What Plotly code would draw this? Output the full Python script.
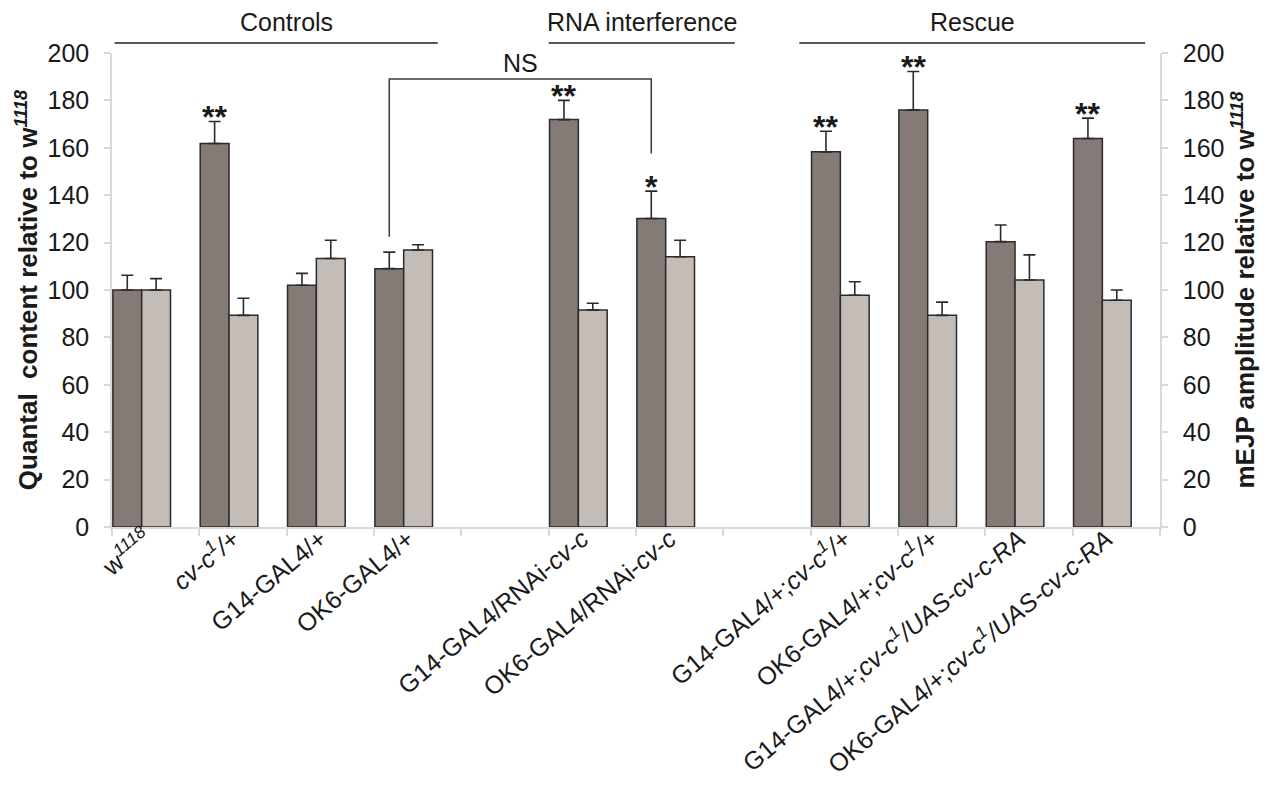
import plotly.graph_objects as go

FONT = "Liberation Sans, Arial, sans-serif"
DARK = "#857b76"
LIGHT = "#c4bcb7"
EDGE = "#2b2b2b"
AXIS = "#d9d9d9"
TXT = "#1a1a1a"

# ---- data ----
categories = [
    "w<sup><i>1118</i></sup>",
    "<i>cv-c<sup>1</sup>/+</i>",
    "G14-GAL4/+",
    "OK6-GAL4/+",
    "",
    "G14-GAL4/RNAi-<i>cv-c</i>",
    "OK6-GAL4/RNAi-<i>cv-c</i>",
    "",
    "G14-GAL4/+;<i>cv-c<sup>1</sup>/+</i>",
    "OK6-GAL4/+;<i>cv-c<sup>1</sup>/+</i>",
    "G14-GAL4/+;<i>cv-c<sup>1</sup>/UAS-cv-c-RA</i>",
    "OK6-GAL4/+;<i>cv-c<sup>1</sup>/UAS-cv-c-RA</i>",
]
quantal = [100, 161.8, 102, 109, None, 171.9, 130.2, None, 158.3, 176, 120.4, 163.9]
quantal_err = [6.2, 9.3, 5, 7, 0, 8.1, 11.5, 0, 8.7, 16.2, 7, 8.6]
mejp = [100, 89.3, 113.3, 116.9, None, 91.6, 114, None, 97.8, 89.3, 104.2, 95.7]
mejp_err = [4.8, 7.2, 7.7, 2.2, 0, 2.8, 7, 0, 5.7, 5.6, 10.6, 4.3]
stars = ["", "**", "", "", "", "**", "*", "", "**", "**", "", "**"]

groups = ["Controls", "RNA interference", "Rescue"]
group_start = [-0.47, 4.5, 7.37]
group_end = [3.23, 6.63, 11.33]
group_label_x = [1.5, 5.57, 9.35]

ns_pair = [3, 6]
ns_y = [122.5, 189, 157.6]
ns_label_y = 195.7

y_ticks = list(range(0, 201, 20))

# ---- geometry of bars inside each category slot ----
idx = list(range(len(categories)))
BW = 0.33
DARK_OFF = -0.49
LIGHT_OFF = DARK_OFF + BW
dark_center = DARK_OFF + BW / 2

fig = go.Figure()

fig.add_trace(go.Bar(
    x=idx, y=quantal, offset=DARK_OFF, width=BW,
    marker=dict(color=DARK, line=dict(color=EDGE, width=1.5)),
    error_y=dict(type="data", array=quantal_err, arrayminus=[0] * len(idx),
                 symmetric=False, color=EDGE, thickness=1.6, width=6),
    name="Quantal content", yaxis="y", hoverinfo="skip",
))
fig.add_trace(go.Bar(
    x=idx, y=mejp, offset=LIGHT_OFF, width=BW,
    marker=dict(color=LIGHT, line=dict(color=EDGE, width=1.5)),
    error_y=dict(type="data", array=mejp_err, arrayminus=[0] * len(idx),
                 symmetric=False, color=EDGE, thickness=1.6, width=6),
    name="mEJP amplitude", yaxis="y2", hoverinfo="skip",
))

# NS bracket
bx0 = ns_pair[0] + dark_center
bx1 = ns_pair[1] + dark_center
fig.add_trace(go.Scatter(
    x=[bx0, bx0, bx1, bx1], y=[ns_y[0], ns_y[1], ns_y[1], ns_y[2]],
    mode="lines", line=dict(color="#3a3a3a", width=1.5),
    yaxis="y", hoverinfo="skip", showlegend=False, cliponaxis=False,
))

annotations = []
# significance stars
for i, s in enumerate(stars):
    if s and quantal[i] is not None:
        annotations.append(dict(
            x=i + dark_center, y=quantal[i] + quantal_err[i], xref="x", yref="y",
            text="<b>" + s + "</b>", showarrow=False, yanchor="middle", yshift=4,
            font=dict(family=FONT, size=32, color=TXT),
        ))
annotations.append(dict(
    x=(bx0 + bx1) / 2, y=ns_label_y, xref="x", yref="y", text="NS",
    showarrow=False, yanchor="middle", font=dict(family=FONT, size=25, color=TXT),
))

shapes = []
for g, x0, x1, lx in zip(groups, group_start, group_end, group_label_x):
    shapes.append(dict(type="line", xref="x", yref="paper", x0=x0, x1=x1,
                       y0=1.021, y1=1.021, line=dict(color="#222222", width=1.5)))
    annotations.append(dict(
        x=lx, y=1.065, xref="x", yref="paper", text=g, showarrow=False,
        yanchor="middle", font=dict(family=FONT, size=25, color=TXT),
    ))

yaxis_common = dict(
    range=[0, 200], tickvals=y_ticks, ticks="outside", ticklen=6,
    tickcolor=AXIS, tickwidth=1.5, showline=True, linecolor=AXIS, linewidth=1.5,
    showgrid=False, zeroline=False, ticklabelstandoff=10, automargin=False,
    tickfont=dict(family=FONT, size=25, color=TXT),
)

fig.update_layout(
    width=1270, height=789,
    margin=dict(l=112, r=110, t=53, b=262),
    plot_bgcolor="white", paper_bgcolor="white",
    showlegend=False, barmode="overlay",
    font=dict(family=FONT, color=TXT),
    xaxis=dict(
        range=[-0.5, len(idx) - 0.5], tickmode="array", tickvals=idx, ticktext=categories,
        tickangle=-40, ticks="outside", ticklen=0, tickcolor=AXIS,
        ticklabelshift=-10, ticklabelstandoff=-14, automargin=False,
        showline=True, linecolor=AXIS, linewidth=1.5, showgrid=False, zeroline=False,
        tickfont=dict(family=FONT, size=25, color=TXT),
        minor=dict(tickmode="array", tickvals=[i - 0.5 for i in range(len(idx) + 1)],
                   ticks="outside", ticklen=7, tickcolor=AXIS, tickwidth=1.5),
    ),
    yaxis=dict(
        **yaxis_common,
        title=dict(text="<b>Quantal\u00a0 content relative to w<sup><i>1118</i></sup></b>",
                   standoff=2, font=dict(family=FONT, size=26, color=TXT)),
    ),
    yaxis2=dict(
        **yaxis_common, overlaying="y", side="right",
        title=dict(text="<b>mEJP amplitude relative to w<sup><i>1118</i></sup></b>",
                   standoff=12, font=dict(family=FONT, size=26, color=TXT)),
    ),
    annotations=annotations,
    shapes=shapes,
)

fig.write_html(
    "out.html",
    config={"displayModeBar": False},
    post_script="document.body.style.margin='0';document.body.style.overflow='hidden';",
)
